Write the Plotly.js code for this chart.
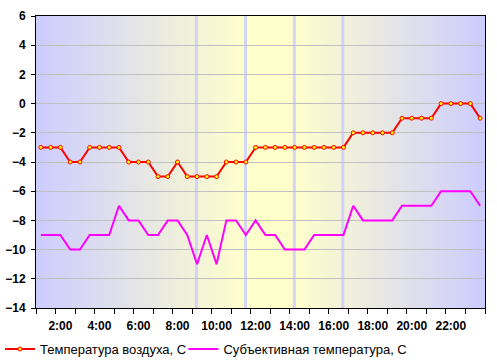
<!DOCTYPE html>
<html>
<head>
<meta charset="utf-8">
<script src="https://cdn.plot.ly/plotly-3.0.1.min.js"></script>
<style>html,body{margin:0;padding:0;background:#fff;}#chart{width:497px;height:364px;}</style>
</head>
<body>
<div id="chart"></div>
<script>
const times = ["1:00","1:30","2:00","2:30","3:00","3:30","4:00","4:30","5:00","5:30",
  "6:00","6:30","7:00","7:30","8:00","8:30","9:00","9:30","10:00","10:30",
  "11:00","11:30","12:00","12:30","13:00","13:30","14:00","14:30","15:00","15:30",
  "16:00","16:30","17:00","17:30","18:00","18:30","19:00","19:30","20:00","20:30",
  "21:00","21:30","22:00","22:30","23:00","23:30"];
const airTemp = [-3,-3,-3,-4,-4,-3,-3,-3,-3,-4,-4,-4,-5,-5,-4,-5,-5,-5,-5,-4,
  -4,-4,-3,-3,-3,-3,-3,-3,-3,-3,-3,-3,-2,-2,-2,-2,-2,-1,-1,-1,
  -1,0,0,0,0,-1];
const feelTemp = [-9,-9,-9,-10,-10,-9,-9,-9,-7,-8,-8,-9,-9,-8,-8,-9,-11,-9,-11,-8,
  -8,-9,-8,-9,-9,-10,-10,-10,-9,-9,-9,-9,-7,-8,-8,-8,-8,-7,-7,-7,
  -7,-6,-6,-6,-6,-7];
const tickLabels = ["2:00","4:00","6:00","8:00","10:00","12:00","14:00","16:00","18:00","20:00","22:00"];
const seriesNames = ["Температура воздуха, С","Субъективная температура, С"];
const stripeTimes = ["8:58","11:29","13:59","16:28"];

const toH = s => { const p = s.split(":"); return +p[0] + (+p[1])/60; };
const xs = times.map(toH);
const tickVals = tickLabels.map(toH);
const xMin = xs[0] - 0.25, xMax = xs[xs.length-1] + 0.25;
const boundaries = [];
for (let v = xMin; v <= xMax + 1e-9; v += 1) boundaries.push(v);

const svg = "<svg xmlns='http://www.w3.org/2000/svg' width='449' height='292' preserveAspectRatio='none'>" +
  "<defs><linearGradient id='g' x1='0' x2='1' y1='0' y2='0'>" +
  "<stop offset='0' stop-color='#ccccff'/><stop offset='0.467' stop-color='#ffffcc'/>" +
  "<stop offset='0.575' stop-color='#ffffcc'/><stop offset='1' stop-color='#ccccff'/>" +
  "</linearGradient></defs><rect width='449' height='292' fill='url(#g)'/></svg>";
const bgSrc = "data:image/svg+xml;charset=utf-8," + encodeURIComponent(svg);

const traces = [
  {x: xs, y: airTemp, name: seriesNames[0], type: 'scatter', mode: 'lines+markers', legend: 'legend',
   line: {color: '#ff0000', width: 2},
   marker: {color: '#ffff00', size: 4, line: {color: '#ff0000', width: 1}}},
  {x: xs, y: feelTemp, name: seriesNames[1], type: 'scatter', mode: 'lines', legend: 'legend2',
   line: {color: '#ff00ff', width: 2}}
];

const shapes = stripeTimes.map(t => ({
  type: 'line', xref: 'x', yref: 'paper', x0: toH(t), x1: toH(t), y0: 0, y1: 1,
  line: {color: 'rgba(204,204,255,0.85)', width: 3}, layer: 'below'
}));

const legendFont = {size: 13, family: 'Liberation Sans, Arial, sans-serif'};
const layout = {
  width: 497, height: 364,
  margin: {l: 36, r: 12, t: 16, b: 56},
  paper_bgcolor: '#ffffff',
  plot_bgcolor: 'rgba(0,0,0,0)',
  font: {family: 'Liberation Sans, Arial, sans-serif', color: '#000', size: 12},
  showlegend: true,
  legend: {orientation: 'h', xref: 'container', yref: 'container', x: -0.004, xanchor: 'left', y: 0.041, yanchor: 'middle',
    font: legendFont, bgcolor: 'rgba(0,0,0,0)'},
  legend2: {orientation: 'h', xref: 'container', yref: 'container', x: 0.369, xanchor: 'left', y: 0.041, yanchor: 'middle',
    font: legendFont, bgcolor: 'rgba(0,0,0,0)'},
  xaxis: {
    range: [xMin, xMax], tickmode: 'array', tickvals: tickVals, ticktext: tickLabels,
    ticks: '', showgrid: false, zeroline: false, automargin: false, ticklabelstandoff: 7,
    showline: true, linecolor: '#000', linewidth: 1, mirror: true,
    tickfont: {size: 12, weight: 'bold'},
    minor: {tickmode: 'array', tickvals: boundaries, ticks: 'outside', ticklen: 5, tickcolor: '#000', showgrid: false}
  },
  yaxis: {
    range: [-14, 6], tickmode: 'array', tickvals: [-14,-12,-10,-8,-6,-4,-2,0,2,4,6],
    ticks: 'outside', ticklen: 4, tickcolor: '#000', automargin: false, ticklabelstandoff: 3,
    showgrid: true, gridcolor: '#c0c0c0', gridwidth: 1, zeroline: false,
    showline: true, linecolor: '#000', linewidth: 1, mirror: true,
    tickfont: {size: 12, weight: 'bold'}
  },
  images: [{source: bgSrc, xref: 'paper', yref: 'paper', x: 0, y: 1, sizex: 1, sizey: 1,
    xanchor: 'left', yanchor: 'top', sizing: 'stretch', layer: 'below'}],
  shapes: shapes
};

Plotly.newPlot('chart', traces, layout, {displayModeBar: false, staticPlot: true});
</script>
</body>
</html>
